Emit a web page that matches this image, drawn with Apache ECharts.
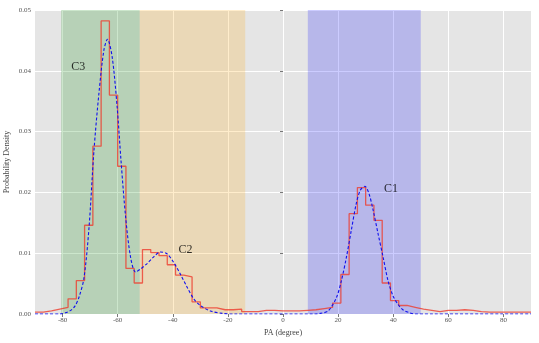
<!DOCTYPE html>
<html>
<head>
<meta charset="utf-8">
<script src="https://cdn.jsdelivr.net/npm/echarts@6/dist/echarts.min.js"></script>
<style>html,body{margin:0;padding:0;background:#fff}#c{width:539px;height:343px}</style>
</head>
<body>
<div id="c"></div>
<script>
// Histogram (bin left edges, 3-degree bins) and densities
const binStart = -90;
const binWidth = 3;
const histValues = [
  0.0003, 0.0005, 0.0008, 0.0011, 0.0025, 0.0055, 0.0146, 0.0276, 0.0482, 0.0360,
  0.0243, 0.0075, 0.0051, 0.0106, 0.0101, 0.0096, 0.0081, 0.0064, 0.0061, 0.0020,
  0.0010, 0.0010, 0.0007, 0.0007, 0.0008, 0.0004, 0.0004, 0.0006, 0.0006, 0.0005,
  0.0005, 0.0005, 0.0006, 0.0007, 0.0009, 0.0011, 0.0018, 0.0065, 0.0165, 0.0208,
  0.0179, 0.0154, 0.0051, 0.0022, 0.0014, 0.0011, 0.0008, 0.0006, 0.0004, 0.0006,
  0.0006, 0.0007, 0.0006, 0.0004, 0.0003, 0.0003, 0.0003, 0.0003, 0.0003, 0.0003
];
// Fitted mixture curve
const curveX = [-90, -81, -79, -77, -75.5, -74, -72.2, -70.4, -68.6, -66.8, -65, -63.7, -62, -60.2, -58.8, -57.1, -55.3, -53.5, -51.7, -49.3, -46.9, -44.5, -42.1, -39.7, -37.3, -34.8, -32.4, -30, -26.4, -22, -18, 12, 13.5, 16.4, 19.4, 21.2, 23, 24.8, 26.6, 28.1, 29.7, 31.2, 32.7, 34.5, 36.3, 38.1, 39.9, 41.7, 43.5, 46, 48, 90];
const curveY = [0, 0, 0.0002, 0.0006, 0.0013, 0.0028, 0.0060, 0.0142, 0.0269, 0.0363, 0.0434, 0.0452, 0.0423, 0.0341, 0.0253, 0.0159, 0.0093, 0.0069, 0.0074, 0.0083, 0.0094, 0.0102, 0.0099, 0.0085, 0.0066, 0.0044, 0.0025, 0.0014, 0.0005, 0.0001, 0, 0, 0.0001, 0.0005, 0.0027, 0.0055, 0.0093, 0.0138, 0.0182, 0.0204, 0.0210, 0.0198, 0.0171, 0.0132, 0.0094, 0.0055, 0.0030, 0.0016, 0.0007, 0.0002, 0, 0];
// Component bands
const bandNames = ['C3', 'C2', 'C1'];
const bandFrom = [-80.5, -52, 9];
const bandTo = [-52, -13.7, 50];
const bandColors = ['rgba(0,128,0,0.2)', 'rgba(255,165,0,0.2)', 'rgba(0,0,255,0.2)'];
// Component labels (data coordinates)
const labelX = [-74.3, -35.4, 39.2];
const labelY = [0.0406, 0.0105, 0.0206];
const xTicks = [-80, -60, -40, -20, 0, 20, 40, 60, 80];

const histData = histValues.map((v, i) => [binStart + i * binWidth, v]);
histData.push([binStart + histValues.length * binWidth, histValues[histValues.length - 1]]);
const curveData = curveX.map((x, i) => [x, curveY[i]]);
const labelData = bandNames.map((n, i) => ({ value: [labelX[i], labelY[i]], name: n }));

const serif = 'Liberation Serif';
const chart = echarts.init(document.getElementById('c'), null, { renderer: 'canvas' });
chart.setOption({
  animation: false,
  backgroundColor: '#ffffff',
  grid: { left: 35, right: 8, top: 10, bottom: 29, show: true, backgroundColor: '#e5e5e5', borderWidth: 0, containLabel: false, outerBoundsMode: 'none' },
  xAxis: {
    type: 'value', min: -90, max: 90,
    name: 'PA (degree)', nameLocation: 'middle', nameGap: 15, nameMoveOverlap: false,
    nameTextStyle: { fontFamily: serif, fontSize: 8, color: '#444' },
    axisLine: { show: false },
    axisTick: { show: true, length: 3, customValues: xTicks, lineStyle: { color: '#555', width: 0.8 } },
    axisLabel: { customValues: xTicks, fontFamily: serif, fontSize: 7, color: '#555', margin: 3 },
    splitLine: { show: true, lineStyle: { color: '#ffffff', width: 1 } }
  },
  yAxis: {
    type: 'value', min: 0, max: 0.05, interval: 0.01,
    name: 'Probability Density', nameLocation: 'middle', nameGap: 24, nameMoveOverlap: false,
    nameTextStyle: { fontFamily: serif, fontSize: 8, color: '#444' },
    axisLine: { show: false },
    axisTick: { show: true, length: 3, lineStyle: { color: '#555', width: 0.8 } },
    axisLabel: { fontFamily: serif, fontSize: 7, color: '#555', margin: 4, formatter: v => v.toFixed(2) },
    splitLine: { show: true, lineStyle: { color: '#ffffff', width: 1 } }
  },
  series: [
    {
      type: 'line', data: [], z: 1, silent: true,
      markArea: {
        silent: true,
        data: bandFrom.map((f, i) => [
          { xAxis: f, itemStyle: { color: bandColors[i] } },
          { xAxis: bandTo[i] }
        ])
      }
    },
    {
      type: 'line', data: histData, step: 'end', symbol: 'none', z: 3,
      lineStyle: { color: 'rgba(238,60,45,0.8)', width: 1.3 }
    },
    {
      type: 'line', data: curveData, smooth: 0.3, symbol: 'none', z: 4,
      lineStyle: { color: '#1010ee', width: 1.1, type: [3, 2] }
    },
    {
      type: 'scatter', data: labelData, symbolSize: 1, itemStyle: { color: 'rgba(0,0,0,0)' }, z: 5,
      label: { show: true, position: 'inside', formatter: p => p.name, fontFamily: serif, fontSize: 12, color: '#000' }
    }
  ]
});
</script>
</body>
</html>
